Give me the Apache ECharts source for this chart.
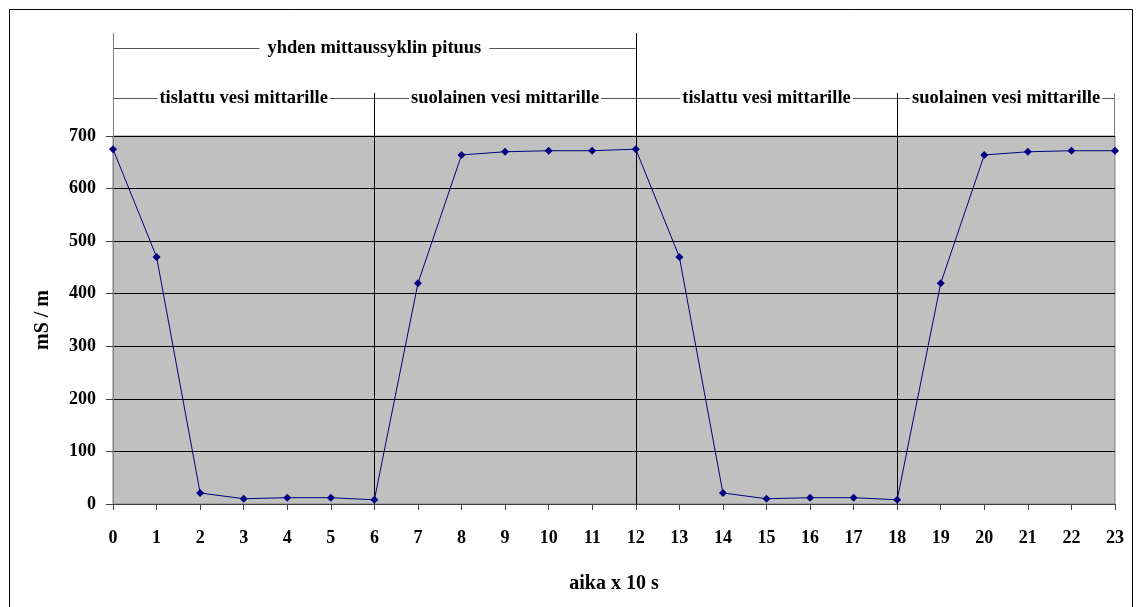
<!DOCTYPE html>
<html>
<head>
<meta charset="utf-8">
<script src="https://cdn.jsdelivr.net/npm/echarts@6/dist/echarts.min.js"></script>
<style>
html,body{margin:0;padding:0;background:#fff;}
#chart{width:1139px;height:607px;}
</style>
</head>
<body>
<div id="chart"></div>
<script>
// Data
const times = [0,1,2,3,4,5,6,7,8,9,10,11,12,13,14,15,16,17,18,19,20,21,22,23];
const conductivity = [675,470,21,10,12,12,8,420,664,670,672,672,675,470,21,10,12,12,8,420,664,670,672,672];
const yTicks = [0,100,200,300,400,500,600,700];
const phaseBounds = [0,6,12,18,23];
const phaseLabels = ['tislattu vesi mittarille','suolainen vesi mittarille','tislattu vesi mittarille','suolainen vesi mittarille'];
const cycleBounds = [0,12];
const cycleLabel = 'yhden mittaussyklin pituus';
const xName = 'aika x 10 s';
const yName = 'mS / m';

const serif = "'Liberation Serif','Times New Roman',serif";
const chart = echarts.init(document.getElementById('chart'));
const option = {
  backgroundColor: '#ffffff',
  animation: false,
  grid: {left:113, right:24, top:136, bottom:103, show:true, backgroundColor:'#c0c0c0', borderColor:'#808080', borderWidth:1, z:0},
  xAxis: {
    type:'value', min:0, max:23, interval:1,
    name:xName, nameLocation:'middle', nameGap:70,
    nameTextStyle:{fontFamily:serif, fontWeight:'bold', fontSize:20, color:'#000'},
    axisLine:{show:true, onZero:false, lineStyle:{color:'#404040', width:1}},
    axisTick:{show:true, length:6, lineStyle:{color:'#404040'}},
    axisLabel:{margin:25, fontFamily:serif, fontWeight:'bold', fontSize:18, color:'#000'},
    splitLine:{show:false}
  },
  yAxis: {
    type:'value', min:0, max:700, interval:100,
    name:yName, nameLocation:'middle', nameGap:60, nameRotate:90,
    nameTextStyle:{fontFamily:serif, fontWeight:'bold', fontSize:20, color:'#000'},
    axisLine:{show:true, lineStyle:{color:'#808080', width:1}},
    axisTick:{show:true, length:7, lineStyle:{color:'#404040'}},
    axisLabel:{margin:17, fontFamily:serif, fontWeight:'bold', fontSize:18, color:'#000',
      formatter: v => yTicks.includes(v) ? String(v) : ''},
    splitLine:{show:true, lineStyle:{color:'#000000', width:1}}
  },
  series: [{
    type:'line', z:3,
    data: times.map((t,i)=>[t, conductivity[i]]),
    symbol:'diamond', symbolSize:8,
    lineStyle:{color:'#000080', width:1},
    itemStyle:{color:'#000080'}
  }]
};
chart.setOption(option);

// Annotation graphics positioned through the axes' scales
const px = x => chart.convertToPixel({xAxisIndex:0}, x);
const py = y => chart.convertToPixel({yAxisIndex:0}, y);
const topY = py(700), botY = py(0);
const row1 = topY - 88, row2 = topY - 38;
const cycleTop = topY - 103, phaseTop = topY - 43;
const g = [];
// outer frame
g.push({type:'rect', shape:{x:9.5, y:9.5, width:1123, height:640}, style:{fill:null, stroke:'#000', lineWidth:1}, z:0, silent:true});
// row 2 line spanning all phases
g.push({type:'line', shape:{x1:px(phaseBounds[0]), y1:row2+0.5, x2:px(phaseBounds[phaseBounds.length-1]), y2:row2+0.5}, style:{stroke:'#555', lineWidth:1}, z:1});
// row 1 line spanning cycle
g.push({type:'line', shape:{x1:px(cycleBounds[0]), y1:row1+0.5, x2:px(cycleBounds[1]), y2:row1+0.5}, style:{stroke:'#555', lineWidth:1}, z:1});
// vertical line at x=0 (extension of y axis)
g.push({type:'line', shape:{x1:Math.round(px(0))+0.5, y1:cycleTop, x2:Math.round(px(0))+0.5, y2:topY}, style:{stroke:'#808080', lineWidth:1}, z:1});
// right edge extension
const xr = Math.round(px(phaseBounds[phaseBounds.length-1]))-0.5;
g.push({type:'line', shape:{x1:xr, y1:phaseTop, x2:xr, y2:topY}, style:{stroke:'#808080', lineWidth:1}, z:1});
// inner boundaries
for (let i=1;i<phaseBounds.length-1;i++){
  const b = phaseBounds[i];
  const x = Math.round(px(b))+0.5;
  const top = (b === cycleBounds[1]) ? cycleTop : phaseTop;
  g.push({type:'line', shape:{x1:x, y1:top, x2:x, y2:botY}, style:{stroke:'#000', lineWidth:1}, z:2});
}
// labels
for (let i=0;i<phaseLabels.length;i++){
  const cx = (px(phaseBounds[i]) + px(phaseBounds[i+1]))/2;
  g.push({type:'text', x:cx, y:row2, z:3, style:{text:phaseLabels[i], fontFamily:serif, fontWeight:'bold', fontSize:18.5, fill:'#000',
    align:'center', verticalAlign:'middle', backgroundColor:'#fff', padding:[0,2]}});
}
g.push({type:'text', x:(px(cycleBounds[0])+px(cycleBounds[1]))/2, y:row1, z:3, style:{text:cycleLabel, fontFamily:serif, fontWeight:'bold', fontSize:18.5, fill:'#000',
  align:'center', verticalAlign:'middle', backgroundColor:'#fff', padding:[0,8]}});
chart.setOption({graphic:{elements:g}});
</script>
</body>
</html>
